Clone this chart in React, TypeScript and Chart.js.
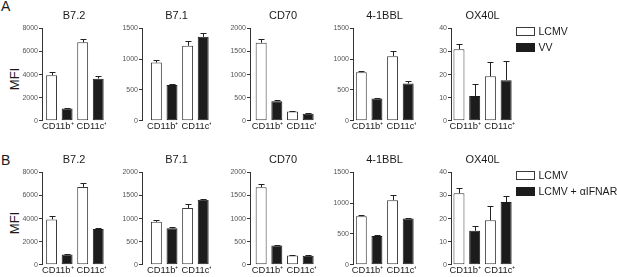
import React, { useEffect, useRef } from 'react';
import { Chart, registerables } from 'chart.js';
Chart.register(...registerables);

const FONT = "'Liberation Sans', Arial, Helvetica, sans-serif";

// ---- data ----
const categories = ['CD11b⁺', 'CD11c⁺'];
const markers = ['B7.2', 'B7.1', 'CD70', '4-1BBL', 'OX40L'];
const rowALabels = ['LCMV', 'VV'];
const rowBLabels = ['LCMV', 'LCMV + αIFNAR'];
const rowAYMax = [8000, 1500, 2000, 1500, 40];
const rowBYMax = [8000, 2000, 2000, 1500, 40];
const yStep = [2000, 500, 500, 500, 10];

const rowALcmv = [[3950, 6800], [945, 1220], [1690, 200], [790, 1050], [31, 19.3]];
const rowALcmvErr = [[250, 320], [35, 70], [80, 20], [20, 85], [2.4, 6]];
const rowAVv = [[1050, 3650], [580, 1365], [420, 150], [360, 605], [10.7, 17.6]];
const rowAVvErr = [[80, 270], [25, 55], [30, 25], [5, 40], [5.3, 8.5]];

const rowBLcmv = [[3930, 6750], [930, 1230], [1680, 200], [790, 1050], [31, 19.3]];
const rowBLcmvErr = [[260, 330], [45, 80], [80, 20], [20, 85], [2.4, 6]];
const rowBIfnar = [[880, 3100], [790, 1410], [415, 195], [465, 750], [14.7, 27.2]];
const rowBIfnarErr = [[70, 50], [20, 20], [20, 15], [15, 12], [2, 2.6]];

// ---- layout ----
const AXIS_X = [42, 142, 250, 353, 451];
const FIRST_GAP = [17.4, 22.2, 18.9, 16.1, 15.7];
const PITCH = 31.2;
const LABEL_SPREAD = 0.05;
const Y_W = 32;
const CANVAS_H = 136;
const PLOT_BOTTOM = 120.7;
const ROW_TOP = [0, 144];
const FULL_W = 617;

const errorBarPlugin = {
  id: 'errorBars',
  afterDatasetsDraw(chart: any) {
    const ctx = chart.ctx;
    const ys = chart.scales.y;
    ctx.save();
    ctx.strokeStyle = '#222';
    ctx.lineWidth = 1;
    chart.data.datasets.forEach((ds: any, i: number) => {
      const meta = chart.getDatasetMeta(i);
      meta.data.forEach((el: any, k: number) => {
        const v = ds.data[k].y;
        const e = ds.errors[k];
        const x = Math.round(el.x) + 0.5;
        const yTop = el.y;
        const yE = Math.round(ys.getPixelForValue(v + e)) + 0.5;
        ctx.beginPath();
        ctx.moveTo(x, yTop);
        ctx.lineTo(x, yE);
        ctx.moveTo(x - 3, yE);
        ctx.lineTo(x + 3, yE);
        ctx.stroke();
      });
    });
    ctx.restore();
  },
};

const sideLegendPlugin = {
  id: 'sideLegend',
  afterDraw(chart: any, _args: any, opts: any) {
    if (!opts || !opts.display) return;
    const ctx = chart.ctx;
    ctx.save();
    chart.data.datasets.forEach((ds: any, i: number) => {
      const bx = Math.round(chart.chartArea.right + opts.dx) + 0.5;
      const by = Math.round(opts.y0 + i * opts.dy) + 0.5;
      ctx.fillStyle = ds.backgroundColor;
      ctx.fillRect(bx, by, opts.boxW, opts.boxH);
      ctx.strokeStyle = ds.borderColor;
      ctx.lineWidth = 1;
      ctx.strokeRect(bx, by, opts.boxW, opts.boxH);
      ctx.fillStyle = '#1a1a1a';
      ctx.font = `${opts.fontSize}px ${FONT}`;
      ctx.textBaseline = 'middle';
      ctx.textAlign = 'left';
      ctx.fillText(ds.label, bx + opts.boxW + opts.gap, by + opts.boxH / 2 + 0.5);
    });
    ctx.restore();
  },
};

type PanelProps = {
  title: string;
  labels: string[];
  lcmv: number[];
  lcmvErr: number[];
  treat: number[];
  treatErr: number[];
  yMax: number;
  step: number;
  axisX: number;
  gap: number;
  top: number;
  legend: boolean;
};

function Panel(p: PanelProps) {
  const ref = useRef<HTMLCanvasElement>(null);
  const xMin = -p.gap / PITCH;
  const xMax = 1.5;
  const plotW = Math.round((xMax - xMin) * PITCH);
  const left = p.axisX - Y_W;
  const baseW = Y_W + plotW;
  const padRight = p.legend ? FULL_W - (left + baseW) : 0;
  const width = baseW + padRight;

  useEffect(() => {
    if (!ref.current) return;
    const chart = new Chart(ref.current, {
      type: 'bar',
      data: {
        datasets: [
          {
            label: p.labels[0],
            data: categories.map((_, i) => ({ x: i, y: p.lcmv[i] })),
            errors: p.lcmvErr,
            backgroundColor: '#ffffff',
            borderColor: '#3a3a3a',
            borderWidth: 1,
            borderSkipped: false,
          } as any,
          {
            label: p.labels[1],
            data: categories.map((_, i) => ({ x: i, y: p.treat[i] })),
            errors: p.treatErr,
            backgroundColor: '#1c1c1c',
            borderColor: '#1c1c1c',
            borderWidth: 1,
            borderSkipped: false,
          } as any,
        ],
      },
      options: {
        animation: false,
        responsive: false,
        events: [],
        layout: { padding: { left: 0, right: padRight, top: 0, bottom: 0 } },
        datasets: { bar: { categoryPercentage: 1, barPercentage: 0.7 } } as any,
        scales: {
          x: {
            type: 'linear',
            offset: false,
            min: xMin,
            max: xMax,
            afterBuildTicks: (s: any) => {
              s.ticks = categories.map((_, i) => ({
                value: i + (i === 0 ? -LABEL_SPREAD : LABEL_SPREAD),
              }));
            },
            ticks: {
              callback: (v: any) => categories[Math.round(v)] ?? '',
              font: { family: FONT, size: 9.4 },
              color: '#1a1a1a',
              padding: 0,
              autoSkip: false,
              maxRotation: 0,
              minRotation: 0,
            },
            grid: { display: false, drawTicks: false },
            border: { display: false },
            afterFit: (s: any) => {
              s.height = CANVAS_H - PLOT_BOTTOM;
              s.paddingLeft = 0;
              s.paddingRight = 0;
            },
          } as any,
          y: {
            min: 0,
            max: p.yMax,
            ticks: {
              stepSize: p.step,
              callback: (v: any) => String(v),
              font: { family: FONT, size: 7 },
              color: '#555',
              padding: 1,
            },
            grid: { drawOnChartArea: false, drawTicks: true, tickLength: 3, color: '#333' },
            border: { display: true, color: '#333', width: 1 },
            afterFit: (s: any) => {
              s.width = Y_W;
              s.paddingTop = 0;
              s.paddingBottom = 0;
            },
          } as any,
        },
        plugins: {
          legend: { display: false },
          tooltip: { enabled: false },
          title: {
            display: true,
            text: p.title,
            fullSize: false,
            color: '#1a1a1a',
            font: { family: FONT, size: 11, weight: 'normal' },
            padding: { top: 9, bottom: 6.3 },
          },
          sideLegend: {
            display: p.legend,
            dx: 1.5,
            y0: 27,
            dy: 16,
            boxW: 18,
            boxH: 8,
            gap: 4,
            fontSize: 10.5,
          },
        } as any,
      },
      plugins: [errorBarPlugin, sideLegendPlugin],
    });
    return () => chart.destroy();
  }, []);

  return (
    <canvas
      ref={ref}
      width={width}
      height={CANVAS_H}
      style={{ position: 'absolute', left, top: p.top, width, height: CANVAS_H, display: 'block' }}
    />
  );
}

const rows = [
  { letter: 'A', labels: rowALabels, yMax: rowAYMax, lcmv: rowALcmv, lcmvErr: rowALcmvErr, treat: rowAVv, treatErr: rowAVvErr },
  { letter: 'B', labels: rowBLabels, yMax: rowBYMax, lcmv: rowBLcmv, lcmvErr: rowBLcmvErr, treat: rowBIfnar, treatErr: rowBIfnarErr },
];

export default function App() {
  return (
    <div
      style={{
        position: 'absolute',
        left: 0,
        top: 0,
        width: FULL_W,
        height: 277,
        overflow: 'hidden',
        background: '#fff',
        fontFamily: FONT,
        color: '#1a1a1a',
      }}
    >
      {rows.map((row, r) => (
        <React.Fragment key={r}>
          <div style={{ position: 'absolute', left: 1, top: ROW_TOP[r] + (r === 0 ? -1.5 : 9), fontSize: 14, lineHeight: '14px' }}>
            {row.letter}
          </div>
          <div
            style={{
              position: 'absolute',
              left: 14,
              top: ROW_TOP[r] + 79,
              fontSize: 13,
              lineHeight: '13px',
              whiteSpace: 'nowrap',
              transform: 'translate(-50%, -50%) rotate(-90deg)',
            }}
          >
            MFI
          </div>
          {markers.map((m, j) => (
            <Panel
              key={m + r}
              title={m}
              labels={row.labels}
              lcmv={row.lcmv[j]}
              lcmvErr={row.lcmvErr[j]}
              treat={row.treat[j]}
              treatErr={row.treatErr[j]}
              yMax={row.yMax[j]}
              step={yStep[j]}
              axisX={AXIS_X[j]}
              gap={FIRST_GAP[j]}
              top={ROW_TOP[r]}
              legend={j === markers.length - 1}
            />
          ))}
        </React.Fragment>
      ))}
    </div>
  );
}
